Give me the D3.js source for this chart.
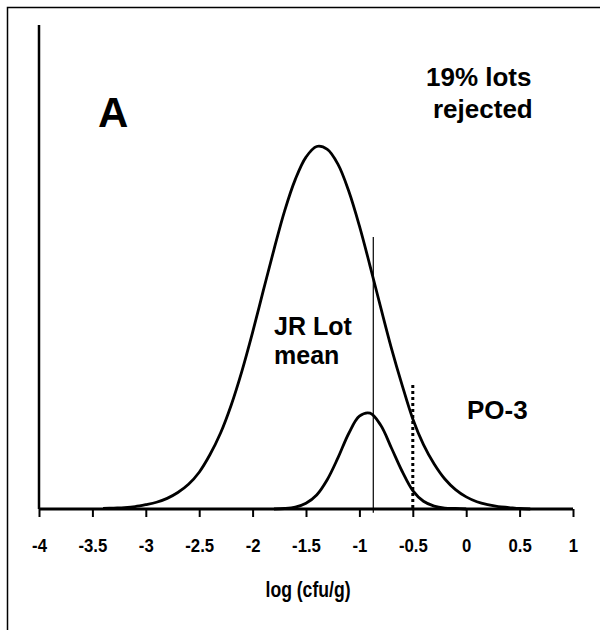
<!DOCTYPE html>
<html>
<head>
<meta charset="utf-8">
<script src="https://cdn.jsdelivr.net/npm/d3@7"></script>
<style>
  html, body { margin: 0; padding: 0; background: #fff; }
  svg text { font-family: "Liberation Sans", Arial, sans-serif; font-weight: bold; fill: #000; }
</style>
</head>
<body>
<svg id="chart"></svg>
<script>
// Values (x = log cfu/g, y = relative frequency)
const xTicks = [-4, -3.5, -3, -2.5, -2, -1.5, -1, -0.5, 0, 0.5, 1];

const lotX = [-3.4, -3.3, -3.2, -3.1, -3.0, -2.9, -2.8, -2.7, -2.6, -2.5, -2.4, -2.3, -2.2, -2.1,
  -2.0, -1.9, -1.8, -1.7, -1.6, -1.5, -1.4, -1.3, -1.2, -1.1, -1.0, -0.9, -0.8, -0.7, -0.6,
  -0.5, -0.4, -0.3, -0.2, -0.1, 0.0, 0.1, 0.2, 0.3, 0.4, 0.5, 0.6];
const lotY = [0.001, 0.002, 0.003, 0.005, 0.009, 0.014, 0.022, 0.034, 0.051, 0.076, 0.112, 0.157,
  0.215, 0.285, 0.365, 0.451, 0.536, 0.616, 0.681, 0.727, 0.749, 0.743, 0.712, 0.657, 0.585,
  0.502, 0.416, 0.332, 0.256, 0.186, 0.133, 0.093, 0.062, 0.040, 0.025, 0.015, 0.009, 0.005,
  0.003, 0.001, 0.000];

const po3X = [-1.8, -1.7, -1.6, -1.5, -1.4, -1.3, -1.2, -1.1, -1.0, -0.9, -0.8, -0.7, -0.6,
  -0.5, -0.4, -0.3, -0.2, -0.1, 0.0];
const po3Y = [0.000, 0.001, 0.004, 0.012, 0.029, 0.061, 0.106, 0.156, 0.192, 0.198, 0.173,
  0.126, 0.078, 0.038, 0.016, 0.006, 0.002, 0.001, 0.000];

// reference lines
const jrMean = -0.87, jrTop = 0.562, jrBottom = -0.008;
const po3Limit = -0.5, po3Top = 0.256;

const width = 600, height = 630;

const svg = d3.select('#chart')
    .attr('width', width)
    .attr('height', height);

// outer frame (only top and left edges are visible)
svg.append('path')
    .attr('d', `M7.5,${height} V7.5 H${width}`)
    .attr('fill', 'none')
    .attr('stroke', '#000')
    .attr('stroke-width', 1.5);

const x = d3.scaleLinear().domain([-4, 1]).range([39, 573]);
const y = d3.scaleLinear().domain([0, 1]).range([509, 25]);

// y axis (no ticks)
svg.append('line')
    .attr('x1', x(-4)).attr('x2', x(-4))
    .attr('y1', y(0)).attr('y2', y(1))
    .attr('stroke', '#000')
    .attr('stroke-width', 2.5);

// curves
const line = d3.line()
    .x(d => x(d[0]))
    .y(d => y(d[1]))
    .curve(d3.curveCatmullRom);

svg.append('path')
    .datum(lotX.map((v, i) => [v, lotY[i]]))
    .attr('d', line)
    .attr('fill', 'none')
    .attr('stroke', '#000')
    .attr('stroke-width', 2.8);

svg.append('path')
    .datum(po3X.map((v, i) => [v, po3Y[i]]))
    .attr('d', line)
    .attr('fill', 'none')
    .attr('stroke', '#000')
    .attr('stroke-width', 2.8);

// JR lot mean line
svg.append('line')
    .attr('x1', x(jrMean)).attr('x2', x(jrMean))
    .attr('y1', y(jrTop)).attr('y2', y(jrBottom))
    .attr('stroke', '#000')
    .attr('stroke-width', 1.2);

// PO-3 limit (dotted)
svg.append('line')
    .attr('x1', x(po3Limit)).attr('x2', x(po3Limit))
    .attr('y1', y(po3Top)).attr('y2', y(0))
    .attr('stroke', '#000')
    .attr('stroke-width', 3)
    .attr('stroke-dasharray', '3,3');

// x axis
const xAxis = svg.append('g')
    .attr('transform', `translate(0,${y(0)})`)
    .call(d3.axisBottom(x).tickValues(xTicks).tickSize(8).tickFormat(d => String(d)));

xAxis.select('.domain')
    .attr('stroke-width', 3)
    .attr('d', `M${x(-4)},0H${x(1)}`);
xAxis.selectAll('.tick line').attr('stroke-width', 2);
xAxis.selectAll('.tick text')
    .attr('y', 0)
    .attr('dy', 0)
    .attr('transform', 'translate(0,43) scale(0.93,1.05)')
    .style('font-size', '18px')
    .style('font-family', '"Liberation Sans", Arial, sans-serif')
    .style('font-weight', 'bold');

// axis title (condensed like the original)
svg.append('text')
    .attr('transform', 'translate(308,597) scale(0.8,1)')
    .attr('text-anchor', 'middle')
    .style('font-size', '22px')
    .text('log (cfu/g)');

// annotations
svg.append('text').attr('x', 98).attr('y', 127).style('font-size', '42px').text('A');

svg.append('text').attr('x', 426).attr('y', 86).style('font-size', '26px').text('19% lots');
svg.append('text').attr('x', 433).attr('y', 118).style('font-size', '26px').text('rejected');

svg.append('text').attr('x', 274).attr('y', 335).style('font-size', '25px').text('JR Lot');
svg.append('text').attr('x', 274).attr('y', 364).style('font-size', '25px').text('mean');

svg.append('text').attr('x', 467).attr('y', 419).style('font-size', '26px').text('PO-3');
</script>
</body>
</html>
